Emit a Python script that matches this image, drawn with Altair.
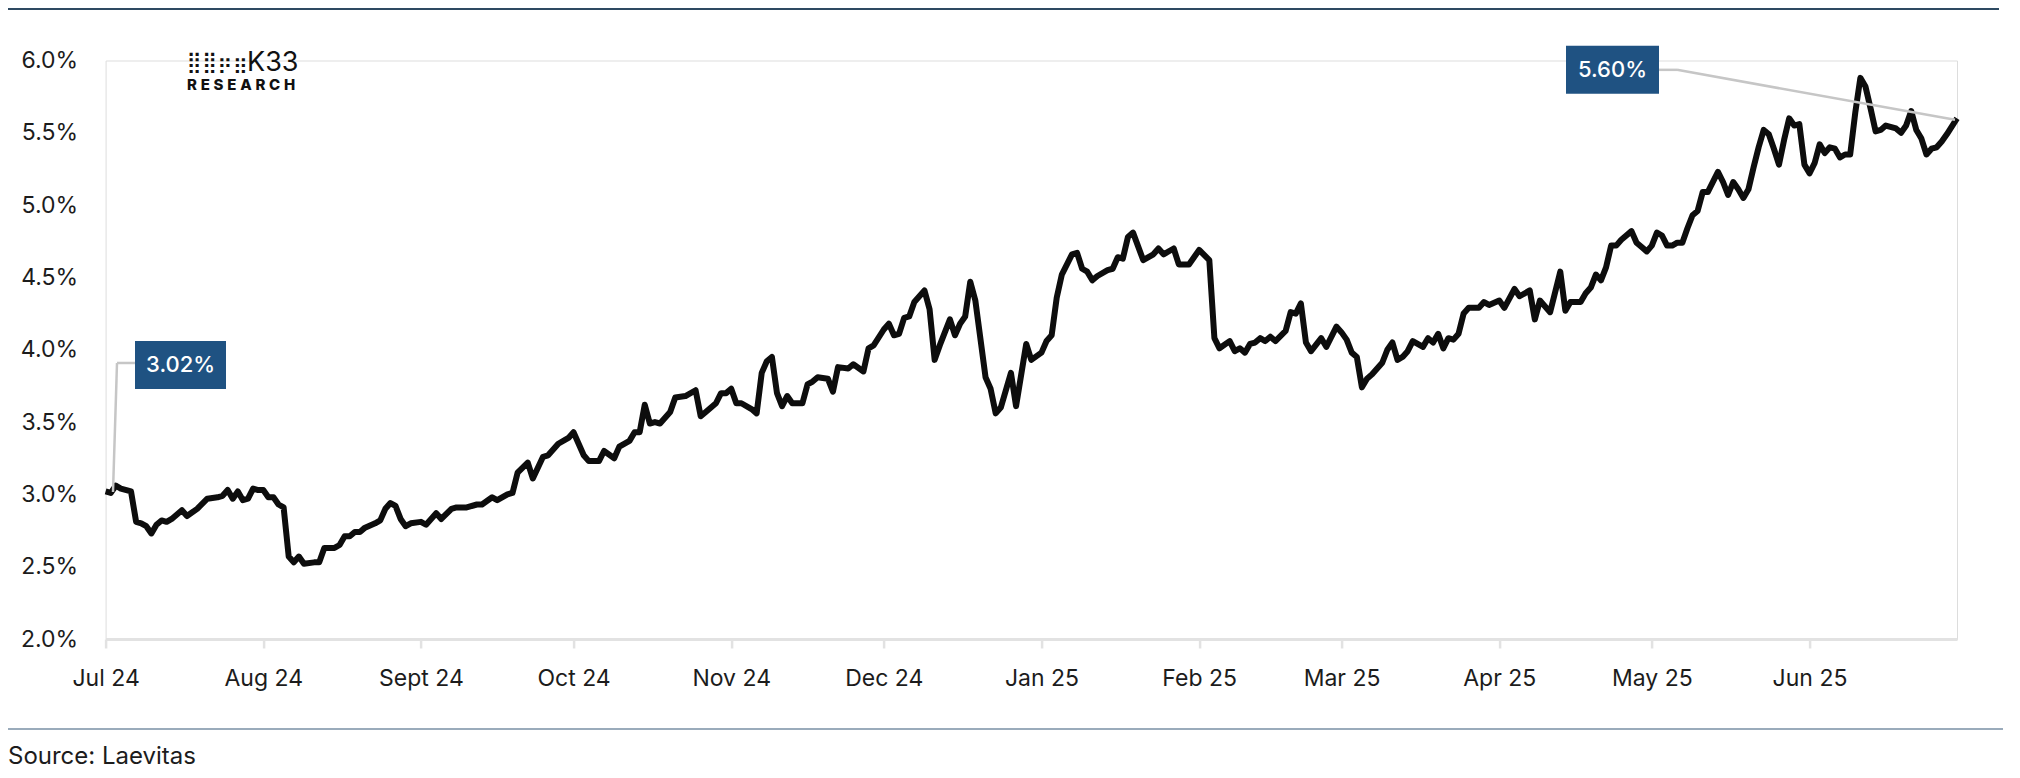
import altair as alt
import pandas as pd

# ---- data ----
day_offsets = [0, 1, 2, 3, 5, 6, 7, 8, 9, 10, 11, 12, 13, 15, 16, 18, 20, 22, 23, 24, 25, 26, 27, 28, 29, 30, 31, 32, 33, 34, 35,
               36, 37, 38, 39, 41, 42, 43, 45, 46, 47, 48, 49, 50, 51, 53, 54, 55, 56, 57, 58, 59, 60, 62, 63, 65, 66, 68, 69,
               71, 73, 74, 76, 77, 79, 80, 81, 83, 84, 86, 87, 89, 91, 92, 94, 95, 97, 98, 100, 101, 103, 104, 105, 106, 107,
               108, 109, 111, 112, 114, 116, 117, 118, 120, 121, 122, 123, 124, 125, 127, 128, 129, 130, 131, 132, 133, 134,
               135, 137, 138, 139, 140, 142, 143, 144, 146, 147, 149, 150, 151, 153, 154, 155, 156, 157, 158, 159, 161, 162,
               163, 164, 166, 167, 168, 169, 170, 171, 173, 174, 175, 176, 178, 179, 181, 182, 184, 185, 186, 187, 188, 190,
               191, 192, 193, 194, 195, 197, 198, 199, 200, 201, 202, 204, 206, 207, 208, 210, 211, 213, 215, 217, 218, 219,
               221, 222, 223, 224, 225, 226, 227, 228, 229, 230, 232, 233, 234, 235, 236, 237, 239, 240, 242, 243, 244, 245,
               246, 247, 248, 249, 251, 252, 253, 254, 255, 256, 257, 259, 260, 261, 262, 263, 264, 265, 266, 267, 268, 270,
               271, 272, 274, 275, 277, 278, 280, 281, 282, 284, 286, 287, 288, 290, 291, 292, 293, 294, 295, 296, 297, 298,
               300, 301, 302, 303, 304, 305, 306, 307, 308, 309, 310, 311, 312, 313, 314, 315, 317, 318, 319, 320, 321, 322,
               323, 324, 325, 326, 327, 328, 329, 330, 331, 332, 333, 334, 335, 336, 337, 338, 339, 340, 341, 342, 343, 344,
               345, 346, 347, 348, 349, 350, 352, 353, 354, 355, 356, 357, 358, 359, 360, 361, 362, 364]
rate_values = [3.02, 3.01, 3.06, 3.04, 3.02, 2.81, 2.80, 2.78, 2.73, 2.79, 2.82, 2.81, 2.83, 2.89, 2.85, 2.90, 2.97, 2.98, 2.99,
               3.03, 2.97, 3.02, 2.96, 2.97, 3.04, 3.03, 3.03, 2.98, 2.98, 2.93, 2.91,
               2.57, 2.53, 2.57, 2.52, 2.53, 2.53, 2.63, 2.63, 2.65, 2.71, 2.71, 2.74, 2.74, 2.77, 2.80, 2.82, 2.90, 2.94,
               2.92, 2.83, 2.78, 2.80, 2.81, 2.79, 2.87, 2.83, 2.90, 2.91,
               2.91, 2.93, 2.93, 2.98, 2.96, 3.00, 3.01, 3.15, 3.22, 3.11, 3.26, 3.27, 3.35, 3.39, 3.43, 3.27, 3.23, 3.23,
               3.30, 3.25, 3.33, 3.37, 3.43, 3.43, 3.62, 3.49,
               3.50, 3.49, 3.57, 3.67, 3.68, 3.72, 3.54, 3.57, 3.63, 3.70, 3.70, 3.73, 3.63, 3.63, 3.59, 3.56, 3.84, 3.92,
               3.95, 3.70, 3.61, 3.68,
               3.63, 3.63, 3.76, 3.78, 3.81, 3.80, 3.71, 3.88, 3.87, 3.90, 3.85, 4.01, 4.03, 4.14, 4.18, 4.10, 4.11, 4.22,
               4.23, 4.33, 4.41, 4.28,
               3.93, 4.03, 4.21, 4.10, 4.18, 4.23, 4.47, 4.34, 3.81, 3.73, 3.56, 3.60, 3.84, 3.61, 4.04, 3.93, 3.98, 4.06,
               4.10, 4.36, 4.52, 4.66,
               4.67, 4.56, 4.54, 4.48, 4.51, 4.55, 4.56, 4.64, 4.63, 4.78, 4.81, 4.62, 4.66, 4.70, 4.66, 4.70, 4.59, 4.59,
               4.69, 4.62, 4.08, 4.01,
               4.06, 3.99, 4.01, 3.98, 4.04, 4.05, 4.08, 4.06, 4.09, 4.06, 4.13, 4.26, 4.25, 4.32, 4.05, 3.99, 4.08, 4.02,
               4.16, 4.12, 4.07, 3.98,
               3.95, 3.74, 3.80, 3.83, 3.91, 4.00, 4.05, 3.93, 3.95, 3.99, 4.06, 4.02, 4.08, 4.05, 4.11, 4.01, 4.08, 4.07,
               4.11, 4.25, 4.29, 4.29,
               4.33, 4.31, 4.34, 4.29, 4.42, 4.37, 4.41, 4.21, 4.34, 4.26, 4.54, 4.27, 4.33, 4.33, 4.39, 4.43, 4.52, 4.48,
               4.57, 4.72, 4.72, 4.76,
               4.82, 4.74, 4.71, 4.68, 4.72, 4.81, 4.79, 4.72, 4.72, 4.74, 4.74, 4.84, 4.93, 4.96, 5.09, 5.09, 5.23, 5.16,
               5.07, 5.16, 5.11, 5.05,
               5.11, 5.26, 5.40, 5.52, 5.49, 5.39, 5.28, 5.45, 5.60, 5.55, 5.56, 5.28, 5.22, 5.29, 5.42, 5.36, 5.40, 5.39,
               5.33, 5.35, 5.35, 5.64,
               5.88, 5.82, 5.67, 5.51, 5.52, 5.55, 5.53, 5.50, 5.55, 5.65, 5.52, 5.46, 5.35, 5.39, 5.40, 5.44, 5.49, 5.60]

start_date = pd.Timestamp("2024-07-01")
end_date = pd.Timestamp("2025-06-30")
month_ticks = ["2024-07-01", "2024-08-01", "2024-09-01", "2024-10-01", "2024-11-01", "2024-12-01",
               "2025-01-01", "2025-02-01", "2025-03-01", "2025-04-01", "2025-05-01", "2025-06-01"]
month_labels = ["Jul 24", "Aug 24", "Sept 24", "Oct 24", "Nov 24", "Dec 24",
                "Jan 25", "Feb 25", "Mar 25", "Apr 25", "May 25", "Jun 25"]
y_ticks = [2.0, 2.5, 3.0, 3.5, 4.0, 4.5, 5.0, 5.5, 6.0]
source_text = "Source: Laevitas"

dates = [(start_date + pd.Timedelta(days=d)).strftime("%Y-%m-%d") for d in day_offsets]
df = pd.DataFrame({"date": dates, "rate": rate_values})


def ms(s):
    return int(pd.Timestamp(s, tz="UTC").timestamp() * 1000)


tick_ms = [ms(s) for s in month_ticks]
label_js = "[" + ",".join("'%s'" % l for l in month_labels) + "]"
label_expr = label_js + "[(utcyear(datum.value)-2024)*12+utcmonth(datum.value)-6]"

FONT = "Inter"
W, H = 1851.4, 578.5
BOX = "#1f5282"
CONN = "#c6c6c6"

x_enc = alt.X("date:T",
              scale=alt.Scale(type="utc", domain=[ms(start_date.strftime("%Y-%m-%d")),
                                                  ms(end_date.strftime("%Y-%m-%d"))]),
              axis=alt.Axis(values=tick_ms, labelExpr=label_expr, title=None, grid=False,
                            domainColor="#e2e2e2", domainWidth=3, tickColor="#e2e2e2",
                            tickWidth=2.5, tickSize=9, labelFontSize=23, labelColor="#1c1c1c",
                            labelFont=FONT, labelPadding=19, labelFlush=False))
y_enc = alt.Y("rate:Q",
              scale=alt.Scale(domain=[2, 6], nice=False, zero=False),
              axis=alt.Axis(values=y_ticks, labelExpr="format(datum.value, '.1f') + '%'",
                            title=None, grid=False, domain=False, ticks=False, tickSize=0,
                            labelFontSize=23, labelColor="#1c1c1c", labelFont=FONT,
                            labelPadding=28))

line = alt.Chart(df).mark_line(color="#0d0d0d", strokeWidth=6, strokeJoin="round").encode(
    x=x_enc, y=y_enc)

first = df.iloc[[0]].copy()
last = df.iloc[[-1]].copy()
first["label"] = first["rate"].map(lambda v: f"{v:.2f}%")
last["label"] = last["rate"].map(lambda v: f"{v:.2f}%")


def annot(d, box, text_d, segs):
    enc = dict(x="date:T", x2="date:T", y="rate:Q", y2="rate:Q")
    layers = []
    for (x1, y1, x2, y2) in segs:
        layers.append(alt.Chart(d).mark_rule(color=CONN, strokeWidth=2.5, xOffset=x1, x2Offset=x2,
                                             yOffset=y1, y2Offset=y2).encode(**enc))
    bx1, bx2, by1, by2 = box
    layers.append(alt.Chart(d).mark_rect(color=BOX, xOffset=bx1, x2Offset=bx2,
                                         yOffset=by1, y2Offset=by2).encode(**enc))
    layers.append(alt.Chart(d).mark_text(color="white", font=FONT, fontSize=22, fontWeight=500,
                                         align="center", baseline="middle",
                                         dx=text_d[0], dy=text_d[1]).encode(
        x="date:T", y="rate:Q", text="label:N"))
    return layers


ann1 = annot(first, (29.4, 120.4, -150.5, -102.5), (75, -126),
             [(7.4, 0.5, 11.4, -128.5), (11.4, -128.5, 29.4, -128.5)])
ann2 = annot(last, (-391, -298, -72.5, -24.5), (-344.5, -48),
             [(-298, -48.5, -280, -48.5), (-280, -48.5, -2, 1.5)])

one = pd.DataFrame({"t": [0]})
top_line = alt.Chart(one).mark_rule(color="#2e4a62", strokeWidth=2).encode(
    x=alt.value(-97.6), x2=alt.value(1893.4), y=alt.value(-51.5))
bottom_line = alt.Chart(one).mark_rule(color="#9aabbb", strokeWidth=2).encode(
    x=alt.value(-97.6), x2=alt.value(1897.4), y=alt.value(668.5))
source = alt.Chart(pd.DataFrame({"t": [source_text]})).mark_text(
    font=FONT, fontSize=24, color="#1c1c1c", align="left", baseline="middle").encode(
    text="t:N", x=alt.value(-97.6), y=alt.value(696.5))

logo_dots = alt.Chart(pd.DataFrame({"t": ["⣿⣿⡶⣶"]})).mark_text(
    font="DejaVu Sans", fontSize=21, color="#111111", align="left", baseline="alphabetic").encode(
    text="t:N", x=alt.value(81), y=alt.value(8))
logo_k33 = alt.Chart(pd.DataFrame({"t": ["K33"]})).mark_text(
    font=FONT, fontSize=27, color="#111111", align="left", baseline="alphabetic").encode(
    text="t:N", x=alt.value(141.4), y=alt.value(10.5))
logo_res = alt.Chart(pd.DataFrame({"t": ["R\u2005E\u2005S\u2005E\u2005A\u2005R\u2005C\u2005H"]})).mark_text(
    font=FONT, fontSize=15, fontWeight=800, color="#111111", align="left", baseline="alphabetic",
    limit=0).encode(text="t:N", x=alt.value(81.4), y=alt.value(29))

chart = alt.layer(line, *ann1, *ann2, top_line, bottom_line, source, logo_dots, logo_k33, logo_res).properties(
    width=W, height=H,
    autosize=alt.AutoSizeParams(type="none"),
    padding={"left": 97.6, "top": 52.5, "right": 50, "bottom": 130},
).configure_view(stroke=None).configure(background="white")

chart.save("out.html", embed_options={"renderer": "svg", "actions": False})
